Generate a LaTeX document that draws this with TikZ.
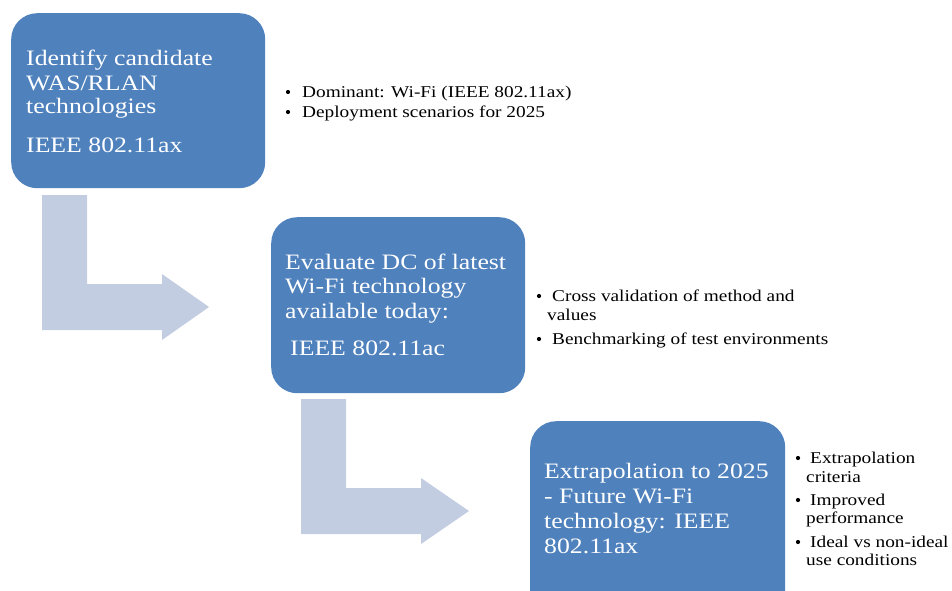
\documentclass[tikz,border=0pt]{standalone}
\usepackage{fontspec}
\setmainfont{Liberation Serif}[FakeStretch=1.17]
\definecolor{boxblue}{HTML}{4F81BD}
\definecolor{arrowblue}{HTML}{C3CDE2}
\tikzset{
  stepbox/.style={fill=boxblue, draw=none, rounded corners=26pt, inner sep=0pt},
  boxtext/.style={anchor=base west, inner sep=0pt, text=white, font=\fontsize{22}{24}\selectfont},
  bultext/.style={anchor=base west, inner sep=0pt, text=black, font=\fontsize{16.5}{19}\selectfont},
  bul/.style={circle, fill=black, inner sep=0pt, minimum size=4.2pt},
  bentarrow/.style={fill=arrowblue, draw=none}
}
\begin{document}
\begin{tikzpicture}[x=1pt,y=-1pt]
\useasboundingbox (0,0) rectangle (952,590);
\begin{scope}
\clip (0,0) rectangle (952,590);
% bent arrows
\fill[bentarrow] (42,195) -- (87,195) -- (87,284) -- (162,284) -- (162,274) -- (209,307) -- (162,340) -- (162,330) -- (42,330) -- cycle;
\fill[bentarrow] (301,399) -- (346,399) -- (346,488) -- (421,488) -- (421,478) -- (469,511) -- (421,544) -- (421,534) -- (301,534) -- cycle;
% boxes
\node[stepbox, minimum width=254pt, minimum height=175pt, anchor=north west] (b1) at (11,13) {};
\node[stepbox, minimum width=254pt, minimum height=176pt, anchor=north west] (b2) at (271,217) {};
\node[stepbox, minimum width=255pt, minimum height=200pt, anchor=north west] (b3) at (530,421) {};
\end{scope}
% box texts
\node[boxtext] (t1a) at (26,65) {Identify candidate};
\node[boxtext] (t1b) at (26,90) {WAS/RLAN};
\node[boxtext] (t1c) at (26,113) {technologies};
\node[boxtext] (t1d) at (26,152) {IEEE 802.11ax};
\node[boxtext] (t2a) at (285,269) {Evaluate DC of latest};
\node[boxtext] (t2b) at (285,293) {Wi-Fi technology};
\node[boxtext] (t2c) at (285,318) {available today:};
\node[boxtext] (t2d) at (290,355) {IEEE 802.11ac};
\node[boxtext] (t3a) at (544,478) {Extrapolation to 2025};
\node[boxtext] (t3b) at (544,503) {- Future Wi-Fi};
\node[boxtext] (t3c) at (544,528) {technology: IEEE};
\node[boxtext] (t3d) at (544,553) {802.11ax};
% bullets group 1
\node[bul] (d1a) at (288,92) {};
\node[bultext] (s1a) at (302,97) {Dominant: Wi-Fi (IEEE 802.11ax)};
\node[bul] (d1b) at (288,112) {};
\node[bultext] (s1b) at (302,117) {Deployment scenarios for 2025};
% bullets group 2
\node[bul] (d2a) at (539,296) {};
\node[bultext] (s2a) at (552,301) {Cross validation of method and};
\node[bultext] (s2b) at (547,320) {values};
\node[bul] (d2b) at (539,339) {};
\node[bultext] (s2c) at (552,344) {Benchmarking of test environments};
% bullets group 3
\node[bul] (d3a) at (798,458) {};
\node[bultext] (s3a) at (810,463) {Extrapolation};
\node[bultext] (s3b) at (806,482) {criteria};
\node[bul] (d3b) at (798,500) {};
\node[bultext] (s3c) at (810,505) {Improved};
\node[bultext] (s3d) at (806,523) {performance};
\node[bul] (d3c) at (798,542) {};
\node[bultext] (s3e) at (810,547) {Ideal vs non-ideal};
\node[bultext] (s3f) at (806,565) {use conditions};
\end{tikzpicture}
\end{document}
